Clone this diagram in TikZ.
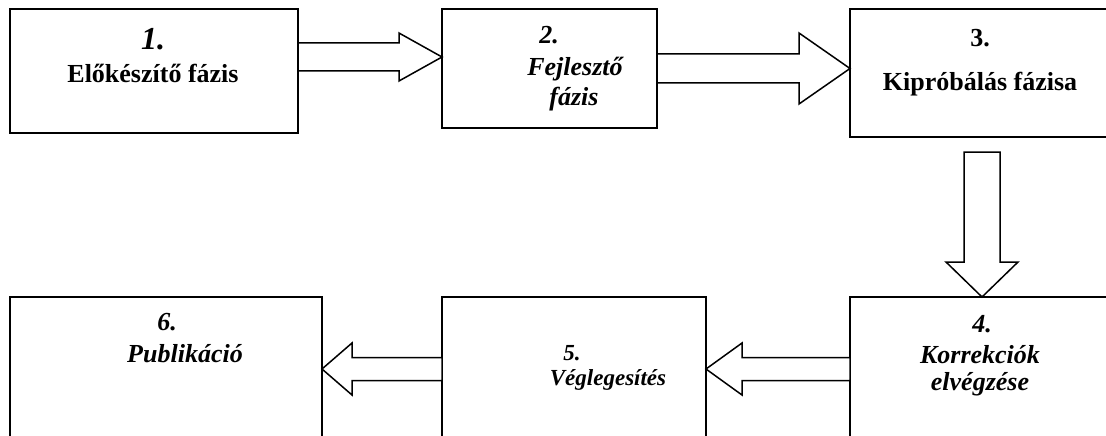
\documentclass[tikz,border=0pt]{standalone}
\usepackage{fontspec}
\setmainfont{Liberation Serif}
\usetikzlibrary{calc}

% hollow block arrow: tail, tip, shaft half width, head half width, head length
\newcommand\fatarrow[5]{%
  \draw[block arrow] let \p1=(#1), \p2=(#2),
      \n1={atan2(\y2-\y1,\x2-\x1)}, \n2={veclen(\x2-\x1,\y2-\y1)} in
    [shift={(\p1)}, rotate=\n1]
    (0,-#3) -- ({\n2-#5},-#3) -- ({\n2-#5},-#4) -- (\n2,0)
    -- ({\n2-#5},#4) -- ({\n2-#5},#3) -- (0,#3) -- cycle;}

\begin{document}
\begin{tikzpicture}[x=1pt,y=-1pt,
  phase box/.style={draw,line width=2.2pt,anchor=north west,outer sep=0pt,inner sep=0pt},
  block arrow/.style={draw,line width=1.5pt,line join=miter,fill=white},
  num/.style={anchor=base,inner sep=0pt,font=\fontsize{26}{30}\selectfont\bfseries\itshape},
  up/.style={anchor=base,inner sep=0pt,font=\fontsize{26}{30}\selectfont\bfseries},
  slant/.style={anchor=base,inner sep=0pt,font=\fontsize{26}{30}\selectfont\bfseries\itshape}]
\path[use as bounding box,clip] (0,0) rectangle (1106,436);

% phases
\node[phase box,minimum width=288pt,minimum height=124pt] (b1) at (10,9) {};
\node[phase box,minimum width=215pt,minimum height=119pt] (b2) at (442,9) {};
\node[phase box,minimum width=270pt,minimum height=128pt] (b3) at (850,9) {};
\node[phase box,minimum width=270pt,minimum height=200pt] (b4) at (850,297) {};
\node[phase box,minimum width=264pt,minimum height=200pt] (b5) at (442,297) {};
\node[phase box,minimum width=312pt,minimum height=200pt] (b6) at (10,297) {};

\node[num,font=\fontsize{32}{36}\selectfont\bfseries\itshape] (n1) at (153,50) {1.};
\node[up] (t1) at (153,82) {Előkészítő fázis};
\node[num] (n2) at (549,44) {2.};
\node[slant] (t2a) at (575,76) {Fejlesztő};
\node[slant] (t2b) at (574,106) {fázis};
\node[up] (n3) at (980,47) {3.};
\node[up] (t3) at (980,91) {Kipróbálás fázisa};
\node[num] (n4) at (982,332) {4.};
\node[slant] (t4a) at (980,363) {Korrekciók};
\node[slant] (t4b) at (980,390) {elvégzése};
\node[num,font=\fontsize{23}{27}\selectfont\bfseries\itshape] (n5) at (572,360) {5.};
\node[slant,font=\fontsize{23}{27}\selectfont\bfseries\itshape] (t5) at (608,385) {Véglegesítés};
\node[num] (n6) at (167,330) {6.};
\node[slant] (t6) at (185,362) {Publikáció};

% flow
\fatarrow{[yshift=-48pt]b1.north east}{[yshift=-48pt]b2.north west}{14}{24}{43}
\fatarrow{b2.east}{b2.east -| b3.west}{14.5}{35.5}{51}
\fatarrow{[shift={(132pt,-15pt)}]b3.south west}{[xshift=132pt]b4.north west}{18}{36}{35}
\fatarrow{[yshift=-72pt]b4.north west}{[yshift=-72pt]b5.north east}{11.5}{26}{36}
\fatarrow{[yshift=-72pt]b5.north west}{[yshift=-72pt]b6.north east}{11.5}{26}{30}
\end{tikzpicture}
\end{document}
